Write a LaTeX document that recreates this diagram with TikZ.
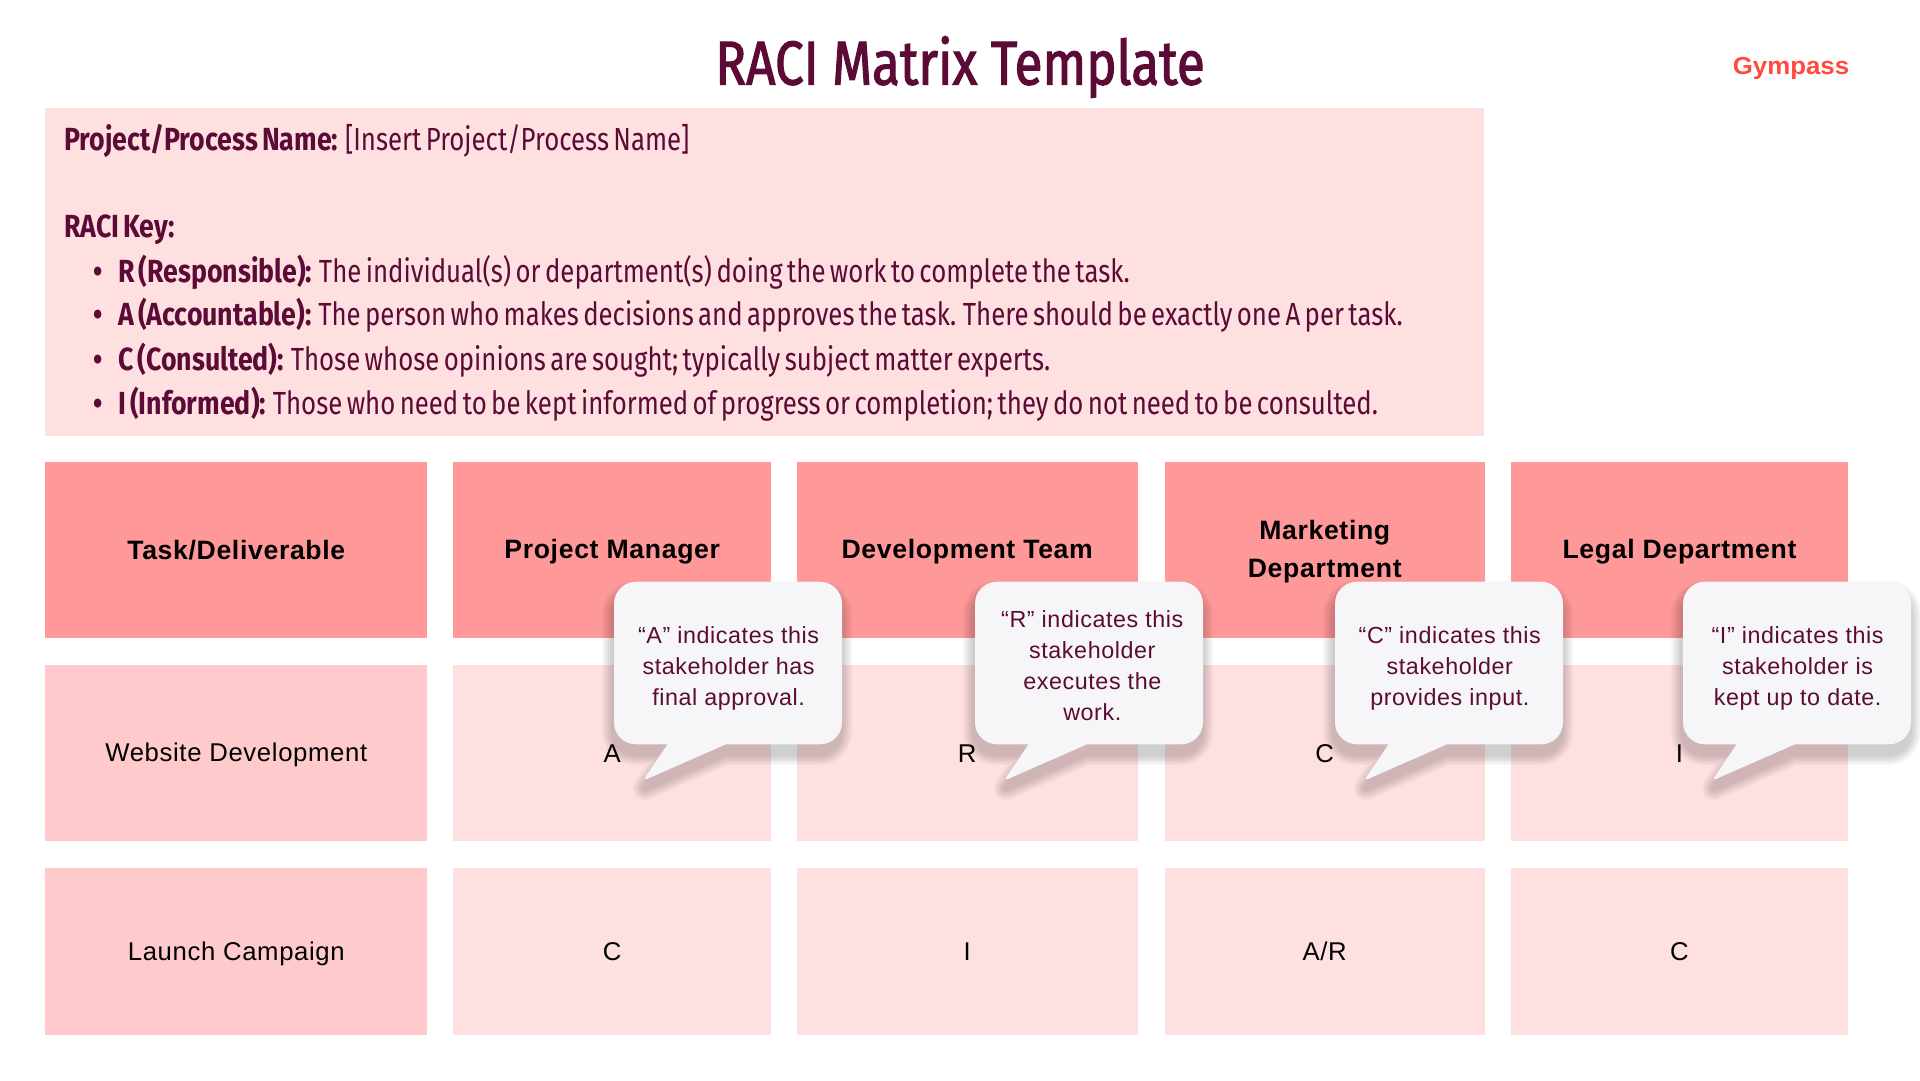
\documentclass[tikz,border=0pt]{standalone}
\usepackage{fontspec}
\setmainfont[LetterSpace=2.5]{Liberation Sans}
\newfontfamily\narrowfont[FakeStretch=0.805,WordSpace=0.65,BoldFeatures={FakeStretch=0.835}]{Fira Sans}
\newfontfamily\titlefont[FakeStretch=0.825,FakeBold=1.8]{Fira Sans}
\newfontfamily\logofont[FakeStretch=1.05]{Liberation Sans}
\definecolor{wine}{HTML}{5C0A36}
\definecolor{infofill}{HTML}{FFE0E1}
\definecolor{headfill}{HTML}{FF9999}
\definecolor{taskfill}{HTML}{FFCACB}
\definecolor{cellfill}{HTML}{FFE0E1}
\definecolor{bubblefill}{HTML}{F6F6F9}
\definecolor{logored}{HTML}{FF4A3D}
\tikzset{
    cellbox/.style={inner sep=0pt, align=center, text=black, font=\fontsize{25.7}{37.5}\selectfont},
    headbox/.style={cellbox, fill=headfill, font=\fontsize{26.6}{37.5}\selectfont\bfseries},
    infotext/.style={anchor=base west, inner sep=0pt, text=wine, font=\narrowfont\fontsize{32}{38}\selectfont},
    bubbletext/.style={inner sep=0pt, align=center, text=wine, font=\fontsize{23.3}{30.8}\selectfont},
}
\newcommand{\cellstrut}{\rule[-4.7pt]{0pt}{28pt}}
\newcommand{\bubbleoutline}{(100,0) [rounded corners=22pt] -- (228,0) -- (228,162.6) [sharp corners] -- (112,162.6) [rounded corners=5pt] -- (29,199) [sharp corners] -- (53.5,162.6) [rounded corners=22pt] -- (0,162.6) -- (0,0) -- cycle}

\begin{document}
\begin{tikzpicture}[x=1pt,y=-1pt]
        \useasboundingbox (0,0) rectangle (1920,1080);
        \fill[white] (0,0) rectangle (1920,1080);

        % Title and logo
        \node[text=wine, inner sep=0pt, font=\titlefont\fontsize{62}{70}\selectfont] (title) at (960,67) {RACI Matrix Template};
        \node[text=logored, inner sep=0pt, font=\logofont\bfseries\fontsize{24.6}{28}\selectfont] (logo) at (1791,68.5) {Gympass};

        % Key
        \node[fill=infofill, inner sep=0pt, minimum width=1438.7pt, minimum height=328.2pt] (info) at (764.65,271.9) {};
        \node[infotext] (project) at (64,150) {\textbf{Project/Process Name:} [Insert Project/Process Name]};
        \node[infotext] (key) at (64,237.3) {\textbf{RACI Key:}};
        \foreach \nm/\ty/\lbl/\txt in {
            keyR/282.6/R (Responsible):/{The individual(s) or department(s) doing the work to complete the task.},
            keyA/325.8/A (Accountable):/{The person who makes decisions and approves the task. There should be exactly one A per task.},
            keyC/370/C (Consulted):/{Those whose opinions are sought; typically subject matter experts.},
            keyI/414.3/I (Informed):/{Those who need to be kept informed of progress or completion; they do not need to be consulted.}}
        {
            \node[infotext] (dot\nm) at (93,\ty) {\textbf{•}};
            \node[infotext] (\nm) at (118,\ty) {\textbf{\lbl} \txt};
        }

        % Table header
        \foreach \nm/\cx/\w/\lbl in {task/236.3/382/{Task/Deliverable}, pm/612.2/318.4/{Project Manager}, dev/967.25/340.5/{Development Team}, mkt/1324.75/320.5/{Marketing\\Department}, legal/1679.5/337/{Legal Department}}
        {
            \node[headbox, minimum width=\w pt, minimum height=176.4pt] (\nm) at (\cx,549.8) {\cellstrut\lbl\cellstrut};
        }

        % Table rows
        \foreach \nm/\cy/\h/\lbl in {web/753/176/{Website Development}, launch/951.5/167/{Launch Campaign}}
        {
            \node[cellbox, fill=taskfill, minimum width=382pt, minimum height=\h pt] (\nm) at (236.3,\cy) {\cellstrut\lbl};
        }
        \foreach \nm/\cx/\w/\lbl in {webA/612.2/318.4/A, webR/967.25/340.5/R, webC/1324.75/320.5/C, webI/1679.5/337/I}
        {
            \node[cellbox, fill=cellfill, minimum width=\w pt, minimum height=176pt] (\nm) at (\cx,753) {\cellstrut\lbl};
        }
        \foreach \nm/\cx/\w/\lbl in {launchA/612.2/318.4/C, launchR/967.25/340.5/I, launchC/1324.75/320.5/{A/R}, launchI/1679.5/337/C}
        {
            \node[cellbox, fill=cellfill, minimum width=\w pt, minimum height=167pt] (\nm) at (\cx,951.5) {\cellstrut\lbl};
        }

        % Speech bubbles
        \foreach \bx in {614,975,1335,1683}
        {
            \begin{scope}[shift={(\bx,581.7)}]
            \foreach \s in {4,7,...,22}
            {
                \begin{scope}[transparency group, opacity=0.028]
                \fill[black, draw=black, line width=\s pt, line join=round, shift={(-1,10)}] \bubbleoutline;
                \end{scope}
            }
            \fill[bubblefill] \bubbleoutline;
            \end{scope}
        }
        \node[bubbletext] (noteA) at (728.6,668.5) {“A” indicates this\\stakeholder has\\final approval.};
        \node[bubbletext] (noteR) at (1092.3,665.5) {“R” indicates this\\stakeholder\\executes the\\work.};
        \node[bubbletext] (noteC) at (1449.8,668.5) {“C” indicates this\\stakeholder\\provides input.};
        \node[bubbletext] (noteI) at (1797.6,668.5) {“I” indicates this\\stakeholder is\\kept up to date.};
    \end{tikzpicture}
\end{document}
